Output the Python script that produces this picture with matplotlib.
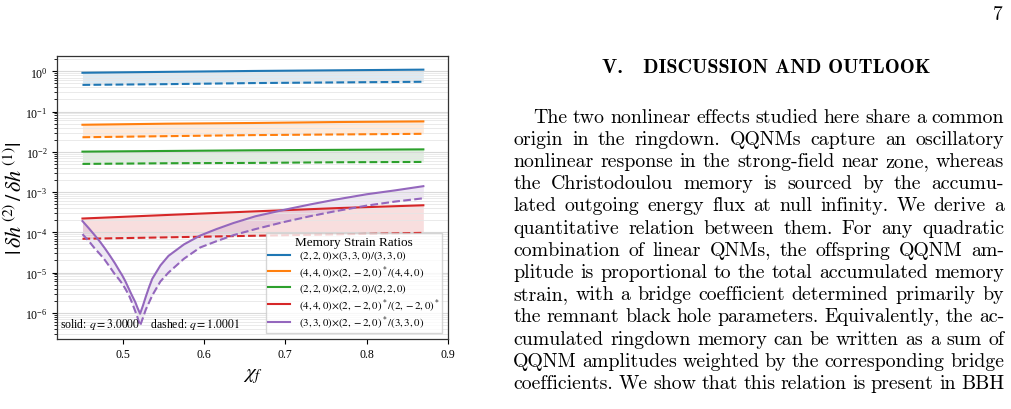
import matplotlib
matplotlib.use("Agg")
import matplotlib.pyplot as plt
from matplotlib.ticker import LogLocator, NullFormatter

plt.rcParams['font.family'] = ['Liberation Serif', 'DejaVu Serif']
plt.rcParams['mathtext.fontset'] = 'stix'

# spin of the remnant
chi_flat = [0.45, 0.555, 0.66, 0.765, 0.87]
chi_p = [0.450, 0.458, 0.465, 0.472, 0.478, 0.484, 0.490, 0.495, 0.499, 0.503,
         0.507, 0.511, 0.515, 0.518, 0.521, 0.5245, 0.528, 0.532, 0.536, 0.546,
         0.556, 0.575, 0.595, 0.615, 0.636, 0.663, 0.698, 0.730, 0.760, 0.800,
         0.835, 0.870]

# solid: q = 3.0000, dashed: q = 1.0001
r1_q3 = [0.92, 0.97, 1.02, 1.06, 1.10]
r1_q1 = [0.46, 0.48, 0.51, 0.53, 0.55]
r2_q3 = [0.047, 0.050, 0.052, 0.055, 0.057]
r2_q1 = [0.023, 0.0245, 0.026, 0.027, 0.028]
r3_q3 = [0.0101, 0.0105, 0.0109, 0.0112, 0.0115]
r3_q1 = [0.0050, 0.0052, 0.0053, 0.0055, 0.0056]
r4_q3 = [2.2e-4, 2.7e-4, 3.3e-4, 4.0e-4, 4.7e-4]
r4_q1 = [6.9e-5, 7.5e-5, 8.2e-5, 8.9e-5, 9.7e-5]
r5_q3 = [1.9e-4, 1.25e-4, 8.5e-5, 5.7e-5, 3.9e-5, 2.6e-5, 1.7e-5, 1.15e-5, 8.5e-6, 6.0e-6,
         4.0e-6, 2.7e-6, 1.86e-6, 1.3e-6, 9.5e-7, 1.5e-6, 2.5e-6, 4.3e-6, 7.0e-6, 1.5e-5,
         2.6e-5, 5.0e-5, 8.3e-5, 1.2e-4, 1.7e-4, 2.5e-4, 3.6e-4, 4.9e-4, 6.4e-4, 8.8e-4,
         1.1e-3, 1.4e-3]
r5_q1 = [9.0e-5, 6.0e-5, 4.0e-5, 2.8e-5, 2.0e-5, 1.35e-5, 9.0e-6, 6.8e-6, 5.3e-6, 3.9e-6,
         2.8e-6, 1.8e-6, 1.1e-6, 7.5e-7, 4.8e-7, 7.5e-7, 1.2e-6, 1.8e-6, 2.7e-6, 6.0e-6,
         1.0e-5, 2.2e-5, 4.2e-5, 6.0e-5, 8.5e-5, 1.2e-4, 1.8e-4, 2.5e-4, 3.3e-4, 4.6e-4,
         5.8e-4, 7.0e-4]

labels = [r'$(2,2,0){\times}(3,3,0)/(3,3,0)$',
          r'$(4,4,0){\times}(2,-2,0)^*/(4,4,0)$',
          r'$(2,2,0){\times}(2,2,0)/(2,2,0)$',
          r'$(4,4,0){\times}(2,-2,0)^*/(2,-2,0)^*$',
          r'$(3,3,0){\times}(2,-2,0)^*/(3,3,0)$']
colors = ['#1f77b4', '#ff7f0e', '#2ca02c', '#d62728', '#9467bd']

series = [(chi_flat, r1_q3, r1_q1), (chi_flat, r2_q3, r2_q1), (chi_flat, r3_q3, r3_q1),
          (chi_flat, r4_q3, r4_q1), (chi_p, r5_q3, r5_q1)]

W, H = 1011, 410
fig = plt.figure(figsize=(W / 100, H / 100), dpi=100)
ax = fig.add_axes([57.3 / W, 1 - 339.5 / H, (447.7 - 57.3) / W, (339.5 - 57.3) / H])

for (x, ys, yd), c, lab in zip(series, colors, labels):
    ax.plot(x, ys, color=c, lw=1.5, label=lab)
    ax.plot(x, yd, color=c, lw=1.5, ls='--')
    ax.fill_between(x, ys, yd, color=c, alpha=0.15, lw=0)

ax.set_yscale('log')
ax.set_xlim(0.419, 0.9)
ax.set_ylim(2.3e-7, 2.36)
ax.set_xticks([0.5, 0.6, 0.7, 0.8, 0.9])
ax.yaxis.set_minor_locator(LogLocator(base=10, subs=range(2, 10), numticks=20))
ax.yaxis.set_minor_formatter(NullFormatter())
ax.grid(True, which='major', axis='y', color='0.85', lw=0.8)
ax.grid(True, which='minor', axis='y', color='0.9', lw=0.6)
ax.tick_params(labelsize=8.5)
for s in ax.spines.values():
    s.set_color('0.2')
    s.set_linewidth(0.9)

ax.set_xlabel(r'$\chi_f$', fontsize=15)
ax.set_ylabel(r'$|\,\delta h^{\,(2)}\,/\,\delta h^{\,(1)}|$', fontsize=16)
ax.yaxis.set_label_coords(-0.078, 0.5)
ax.text(0.006, 0.025, r'solid: $q=3.0000$    dashed: $q=1.0001$', transform=ax.transAxes,
        fontsize=8.5, va='bottom', ha='left')
leg = ax.legend(loc='lower right', fontsize=7.8, title='Memory Strain Ratios',
                title_fontsize=9.5, handlelength=2.0, labelspacing=0.08, borderpad=0.25,
                fancybox=False)
leg.get_frame().set_edgecolor('0.8')

# page text on the right
body = [
    "The two nonlinear effects studied here share a common",
    "origin in the ringdown.  QQNMs capture an oscillatory",
    "nonlinear response in the strong-field near zone, whereas",
    "the Christodoulou memory is sourced by the accumu-",
    "lated outgoing energy flux at null infinity.  We derive a",
    "quantitative relation between them.  For any quadratic",
    "combination of linear QNMs, the offspring QQNM am-",
    "plitude is proportional to the total accumulated memory",
    "strain, with a bridge coefficient determined primarily by",
    "the remnant black hole parameters. Equivalently, the ac-",
    "cumulated ringdown memory can be written as a sum of",
    "QQNM amplitudes weighted by the corresponding bridge",
    "coefficients. We show that this relation is present in BBH",
]

cm = ['cmr10', 'DejaVu Serif']
fig.text(1003 / W, 1 - 20 / H, '7', family=cm, fontsize=14, ha='right', va='baseline')
fig.text(766 / W, 1 - 72.7 / H, 'V.   DISCUSSION AND OUTLOOK', family=['cmb10', 'DejaVu Serif'],
         fontsize=14.5, ha='center', va='baseline')

renderer = fig.canvas.get_renderer()
x_left, x_right = 513.3, 1004.0
for i, line in enumerate(body):
    y = 122.7 + i * 22.2
    x0 = 533.3 if i == 0 else x_left
    words = line.split()
    texts = [fig.text(0, 1 - y / H, w, family=cm, fontsize=14.3, va='baseline') for w in words]
    widths = [t.get_window_extent(renderer).width for t in texts]
    gap = (x_right - x0 - sum(widths)) / (len(words) - 1)
    x = x0
    for t, wd in zip(texts, widths):
        t.set_x(x / W)
        x += wd + gap

fig.savefig('out.png', dpi=100)
